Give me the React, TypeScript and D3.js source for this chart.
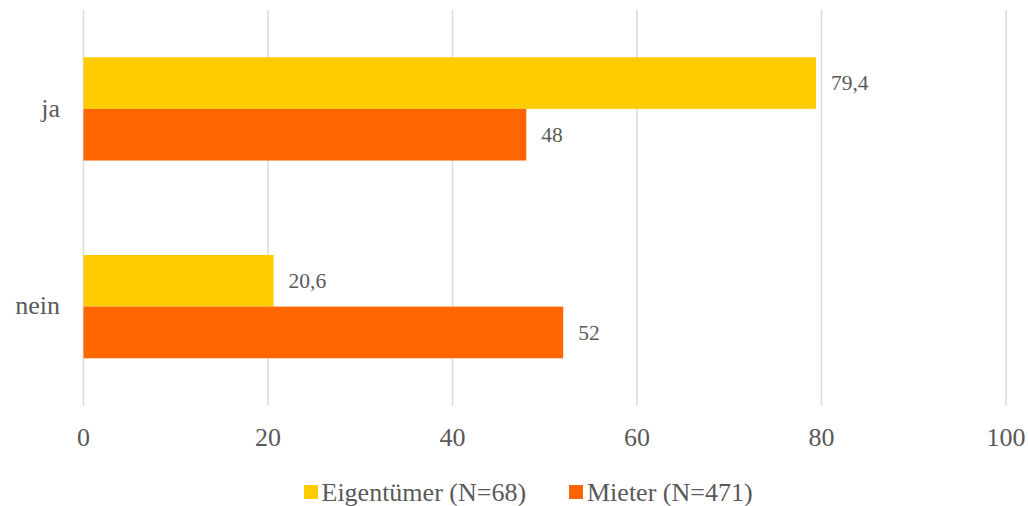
import React from "react";
import * as d3 from "d3";

const categories = ["ja", "nein"];
const seriesNames = ["Eigentümer (N=68)", "Mieter (N=471)"];
const eigentuemer = [79.4, 20.6];
const mieter = [48, 52];
const seriesColors = ["#FFCC00", "#FF6600"];
const xTicks = [0, 20, 40, 60, 80, 100];
const labelText = ["79,4", "20,6"];
const labelText2 = ["48", "52"];

const W = 1028;
const H = 506;
const margin = { left: 83.5, right: 22, top: 10, bottom: 100.5 };
const FONT = "Liberation Serif";
const TEXT = "#595959";

export default function App() {
  const x = d3.scaleLinear().domain([0, 100]).range([margin.left, W - margin.right]);
  const y = d3
    .scaleBand<string>()
    .domain(categories)
    .range([margin.top, H - margin.bottom])
    .paddingInner(0.4776)
    .paddingOuter(0.2388);
  const inner = d3.scaleBand<number>().domain([0, 1]).range([0, y.bandwidth()]);
  const series = [eigentuemer, mieter];
  const labels = [labelText, labelText2];
  const ts = (size: number) => ({ fontFamily: FONT, fontSize: size, fill: TEXT });

  return (
    <svg width={W} height={H} style={{ position: "absolute", left: 0, top: 0, background: "#fff" }}>
      {xTicks.map((t) => (
        <line key={t} x1={x(t)} x2={x(t)} y1={margin.top} y2={H - margin.bottom} stroke="#d9d9d9" strokeWidth={1.5} />
      ))}
      {series.map((vals, si) =>
        vals.map((v, ci) => {
          const yy = (y(categories[ci]) as number) + (inner(si) as number);
          return (
            <g key={`${si}-${ci}`}>
              <rect x={x(0)} y={yy} width={x(v) - x(0)} height={inner.bandwidth()} fill={seriesColors[si]} />
              <text x={x(v) + 15} y={yy + inner.bandwidth() / 2} dy="0.33em" style={ts(21.5)}>
                {labels[si][ci]}
              </text>
            </g>
          );
        })
      )}
      {categories.map((c) => (
        <text
          key={c}
          x={margin.left - 23.5}
          y={(y(c) as number) + y.bandwidth() / 2}
          dy="0.3em"
          textAnchor="end"
          style={ts(26)}
        >
          {c}
        </text>
      ))}
      {xTicks.map((t) => (
        <text key={t} x={x(t)} y={437.5} dy="0.33em" textAnchor="middle" style={ts(26)}>
          {t}
        </text>
      ))}
      <g>
        <rect x={304} y={485} width={14} height={14} fill={seriesColors[0]} />
        <text x={321.5} y={492} dy="0.33em" style={ts(26)}>
          {seriesNames[0]}
        </text>
        <rect x={569} y={485} width={14} height={14} fill={seriesColors[1]} />
        <text x={587} y={492} dy="0.33em" style={ts(26)}>
          {seriesNames[1]}
        </text>
      </g>
    </svg>
  );
}
